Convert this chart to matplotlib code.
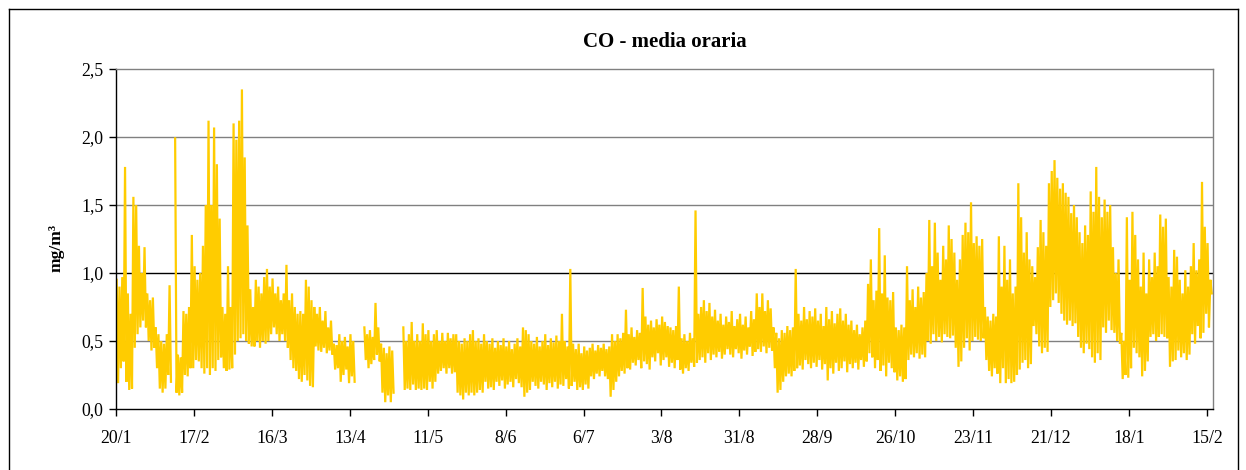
import numpy as np
import matplotlib
matplotlib.use("Agg")
import matplotlib.pyplot as plt
from matplotlib.lines import Line2D

nan = float("nan")

# Daily high / low of the hourly CO series (mg/m3), one value per day from 20/1/2008
daily_high = [
    0.95, 0.90, 0.97, 1.78, 0.85, 0.70, 1.56, 1.50, 1.20, 1.00,
    1.19, 0.85, 0.80, 0.82, 0.60, 0.55, 0.50, 0.48, 0.55, 0.91,
    nan, 1.99, 0.40, 0.38, 0.72, 0.70, 0.75, 1.28, 1.05, 0.95,
    1.00, 1.20, 1.50, 2.12, 1.50, 2.07, 1.80, 1.40, 0.75, 0.70,
    1.05, 0.75, 2.10, 1.98, 2.12, 2.35, 1.85, 1.35, 0.88, 0.75,
    0.95, 0.90, 0.85, 0.97, 1.03, 0.90, 0.96, 0.85, 0.90, 0.80,
    0.85, 1.06, 0.80, 0.85, 0.75, 0.70, 0.72, 0.70, 0.95, 0.90,
    0.80, 0.75, 0.70, 0.75, 0.65, 0.72, 0.60, 0.65, 0.48, 0.47,
    0.55, 0.50, 0.53, 0.46, 0.55, 0.50, nan, nan, nan, 0.60,
    0.55, 0.58, 0.53, 0.78, 0.60, 0.48, 0.45, 0.41, 0.46, 0.43,
    nan, nan, nan, 0.60, 0.50, 0.55, 0.64, 0.50, 0.55, 0.50,
    0.63, 0.55, 0.58, 0.50, 0.55, 0.58, 0.50, 0.56, 0.50, 0.56,
    0.52, 0.55, 0.55, 0.50, 0.48, 0.52, 0.50, 0.55, 0.58, 0.50,
    0.52, 0.48, 0.55, 0.50, 0.48, 0.52, 0.45, 0.50, 0.47, 0.52,
    0.46, 0.50, 0.44, 0.48, 0.52, 0.46, 0.60, 0.58, 0.55, 0.50,
    0.48, 0.53, 0.46, 0.50, 0.55, 0.47, 0.52, 0.49, 0.54, 0.50,
    0.70, 0.50, 0.46, 1.03, 0.48, 0.44, 0.48, 0.41, 0.46, 0.43,
    0.45, 0.48, 0.43, 0.47, 0.45, 0.48, 0.44, 0.46, 0.55, 0.50,
    0.55, 0.52, 0.56, 0.73, 0.55, 0.60, 0.53, 0.58, 0.56, 0.89,
    0.68, 0.62, 0.65, 0.60, 0.66, 0.62, 0.68, 0.64, 0.61, 0.60,
    0.58, 0.61, 0.90, 0.52, 0.55, 0.50, 0.56, 0.52, 1.46, 0.70,
    0.75, 0.80, 0.72, 0.78, 0.68, 0.73, 0.65, 0.70, 0.62, 0.68,
    0.64, 0.72, 0.61, 0.66, 0.70, 0.62, 0.68, 0.60, 0.72, 0.66,
    0.85, 0.75, 0.85, 0.72, 0.80, 0.74, 0.60, 0.56, 0.52, 0.58,
    0.56, 0.61, 0.58, 0.60, 1.03, 0.70, 0.65, 0.75, 0.66, 0.72,
    0.68, 0.74, 0.65, 0.70, 0.61, 0.75, 0.66, 0.72, 0.63, 0.70,
    0.74, 0.65, 0.70, 0.62, 0.65, 0.58, 0.62, 0.55, 0.60, 0.65,
    0.92, 1.10, 0.80, 0.87, 1.33, 0.85, 1.13, 0.82, 0.80, 0.86,
    0.60, 0.58, 0.62, 0.60, 1.05, 0.80, 0.88, 0.75, 0.90, 0.82,
    0.86, 1.00, 1.39, 1.05, 1.37, 1.15, 0.95, 1.20, 1.10, 1.35,
    1.25, 1.15, 0.95, 1.10, 1.28, 1.37, 1.30, 1.52, 1.22, 1.27,
    1.20, 1.25, 0.75, 0.68, 0.65, 0.70, 0.68, 1.27, 0.90, 1.20,
    0.95, 1.10, 0.85, 0.90, 1.66, 1.41, 1.15, 1.30, 1.10, 1.05,
    0.97, 1.19, 1.39, 1.30, 1.20, 1.66, 1.75, 1.83, 1.70, 1.62,
    1.66, 1.59, 1.56, 1.44, 1.50, 1.41, 1.30, 1.22, 1.35, 1.28,
    1.60, 1.45, 1.78, 1.56, 1.41, 1.54, 1.45, 1.50, 1.19, 1.00,
    1.10, 0.56, 0.50, 1.41, 0.95, 1.45, 1.28, 1.10, 0.90, 1.15,
    0.85, 1.10, 0.97, 1.15, 1.05, 1.43, 1.34, 1.40, 0.97, 0.90,
    1.17, 1.12, 0.95, 0.85, 1.02, 0.90, 1.05, 1.22, 1.02, 1.10,
    1.67, 1.34, 1.22, 0.95,
]
daily_low = [
    0.19, 0.30, 0.35, 0.20, 0.14, 0.15, 0.45, 0.55, 0.60, 0.65,
    0.60, 0.50, 0.43, 0.45, 0.30, 0.15, 0.12, 0.15, 0.25, 0.20,
    nan, 0.12, 0.10, 0.12, 0.25, 0.24, 0.30, 0.30, 0.36, 0.35,
    0.30, 0.26, 0.30, 0.25, 0.30, 0.28, 0.36, 0.38, 0.30, 0.28,
    0.29, 0.30, 0.40, 0.50, 0.52, 0.55, 0.50, 0.48, 0.46, 0.46,
    0.50, 0.45, 0.50, 0.48, 0.50, 0.55, 0.60, 0.55, 0.50, 0.55,
    0.50, 0.45, 0.36, 0.30, 0.28, 0.22, 0.20, 0.25, 0.21, 0.17,
    0.16, 0.46, 0.43, 0.42, 0.45, 0.41, 0.43, 0.40, 0.29, 0.30,
    0.20, 0.25, 0.29, 0.19, 0.24, 0.20, nan, nan, nan, 0.36,
    0.30, 0.33, 0.36, 0.40, 0.35, 0.12, 0.05, 0.10, 0.05, 0.12,
    nan, nan, nan, 0.14, 0.15, 0.14, 0.18, 0.14, 0.15, 0.14,
    0.15, 0.14, 0.20, 0.15, 0.20, 0.26, 0.28, 0.30, 0.26, 0.30,
    0.26, 0.27, 0.12, 0.10, 0.07, 0.12, 0.10, 0.12, 0.10, 0.12,
    0.14, 0.12, 0.20, 0.15, 0.16, 0.14, 0.20, 0.17, 0.21, 0.15,
    0.18, 0.20, 0.16, 0.22, 0.19, 0.16, 0.09, 0.12, 0.14, 0.20,
    0.17, 0.15, 0.20, 0.18, 0.14, 0.19, 0.16, 0.20, 0.15, 0.18,
    0.17, 0.22, 0.15, 0.17, 0.20, 0.14, 0.16, 0.14, 0.18, 0.15,
    0.24, 0.22, 0.26, 0.24, 0.28, 0.24, 0.22, 0.09, 0.14, 0.20,
    0.24, 0.28, 0.26, 0.30, 0.29, 0.34, 0.32, 0.36, 0.30, 0.35,
    0.33, 0.29, 0.38, 0.35, 0.41, 0.32, 0.36, 0.38, 0.31, 0.34,
    0.30, 0.36, 0.29, 0.26, 0.30, 0.28, 0.34, 0.31, 0.34, 0.36,
    0.38, 0.34, 0.41, 0.36, 0.40, 0.38, 0.42, 0.37, 0.40, 0.44,
    0.40, 0.38, 0.44, 0.41, 0.37, 0.43, 0.40, 0.46, 0.39, 0.42,
    0.44, 0.42, 0.46, 0.41, 0.45, 0.43, 0.30, 0.12, 0.14, 0.20,
    0.24, 0.26, 0.24, 0.28, 0.30, 0.32, 0.29, 0.36, 0.33, 0.30,
    0.34, 0.31, 0.36, 0.29, 0.33, 0.21, 0.30, 0.26, 0.34, 0.28,
    0.30, 0.35, 0.27, 0.33, 0.30, 0.34, 0.29, 0.36, 0.31, 0.35,
    0.41, 0.38, 0.30, 0.36, 0.28, 0.32, 0.24, 0.34, 0.30, 0.27,
    0.21, 0.24, 0.20, 0.22, 0.36, 0.40, 0.38, 0.41, 0.37, 0.40,
    0.38, 0.50, 0.48, 0.55, 0.50, 0.53, 0.49, 0.55, 0.53, 0.52,
    0.54, 0.45, 0.31, 0.35, 0.45, 0.52, 0.43, 0.50, 0.53, 0.51,
    0.50, 0.52, 0.36, 0.28, 0.24, 0.30, 0.26, 0.19, 0.30, 0.19,
    0.22, 0.19, 0.20, 0.25, 0.29, 0.34, 0.36, 0.30, 0.33, 0.61,
    0.55, 0.46, 0.41, 0.45, 0.42, 0.75, 0.80, 0.85, 0.78, 0.70,
    0.65, 0.62, 0.65, 0.61, 0.63, 0.53, 0.45, 0.41, 0.48, 0.44,
    0.38, 0.34, 0.41, 0.36, 0.60, 0.56, 0.65, 0.58, 0.56, 0.50,
    0.48, 0.22, 0.25, 0.23, 0.30, 0.45, 0.41, 0.38, 0.24, 0.28,
    0.35, 0.53, 0.55, 0.50, 0.53, 0.55, 0.53, 0.52, 0.31, 0.35,
    0.36, 0.43, 0.38, 0.41, 0.36, 0.40, 0.55, 0.48, 0.61, 0.52,
    0.56, 0.70, 0.60, 0.85,
]

tick_labels = ["20/1", "17/2", "16/3", "13/4", "11/5", "8/6", "6/7", "3/8",
               "31/8", "28/9", "26/10", "23/11", "21/12", "18/1", "15/2"]
y_ticks = [0.0, 0.5, 1.0, 1.5, 2.0, 2.5]

plt.rcParams["font.family"] = ["Liberation Serif", "DejaVu Serif"]

hi = np.array(daily_high, dtype=float)
lo = np.array(daily_low, dtype=float)
n = len(hi)
days = np.arange(n)
x = np.empty(2 * n)
y = np.empty(2 * n)
x[0::2] = days + 0.25
x[1::2] = days + 0.75
y[0::2] = hi
y[1::2] = lo

W, H = 1246, 470
fig = plt.figure(figsize=(W / 100, H / 100), dpi=100)
ax = fig.add_axes([116 / W, 1 - 409 / H, 1097 / W, 340 / H])

for v in y_ticks[1:-1]:
    ax.axhline(v, color="black" if v == 1.0 else "#808080", lw=1.0, zorder=1)

ax.plot(x, y, color="#FFCC00", lw=1.6, zorder=2, solid_joinstyle="miter")

ax.set_xlim(0, 394.2)
ax.set_ylim(0, 2.5)
ax.set_xticks(np.arange(len(tick_labels)) * 28)
ax.set_xticklabels(tick_labels)
ax.set_yticks(y_ticks)
ax.set_yticklabels([f"{v:.1f}".replace(".", ",") for v in y_ticks])
ax.tick_params(axis="both", direction="out", length=5, width=1, color="black",
               labelsize=12.8)
ax.tick_params(axis="x", pad=10)
ax.tick_params(axis="y", pad=4)

for s in ["left", "bottom"]:
    ax.spines[s].set_color("black")
    ax.spines[s].set_linewidth(1.0)
for s in ["top", "right"]:
    ax.spines[s].set_color("#808080")
    ax.spines[s].set_linewidth(1.0)

fig.text(665 / W, 1 - 42 / H, "CO - media oraria", ha="center", va="center",
         fontsize=15, fontweight="bold")
fig.text(57 / W, 1 - 248 / H, "mg/m³", ha="center", va="center", rotation=90,
         fontsize=12.5, fontweight="bold")

# outer frame
fig.add_artist(Line2D([8.5 / W, 8.5 / W], [0, 1 - 8.5 / H], color="black", lw=1.0))
fig.add_artist(Line2D([1237.5 / W, 1237.5 / W], [0, 1 - 8.5 / H], color="black", lw=1.0))
fig.add_artist(Line2D([8.5 / W, 1237.5 / W], [1 - 8.5 / H, 1 - 8.5 / H], color="black", lw=1.0))

fig.savefig("out.png", dpi=100)
